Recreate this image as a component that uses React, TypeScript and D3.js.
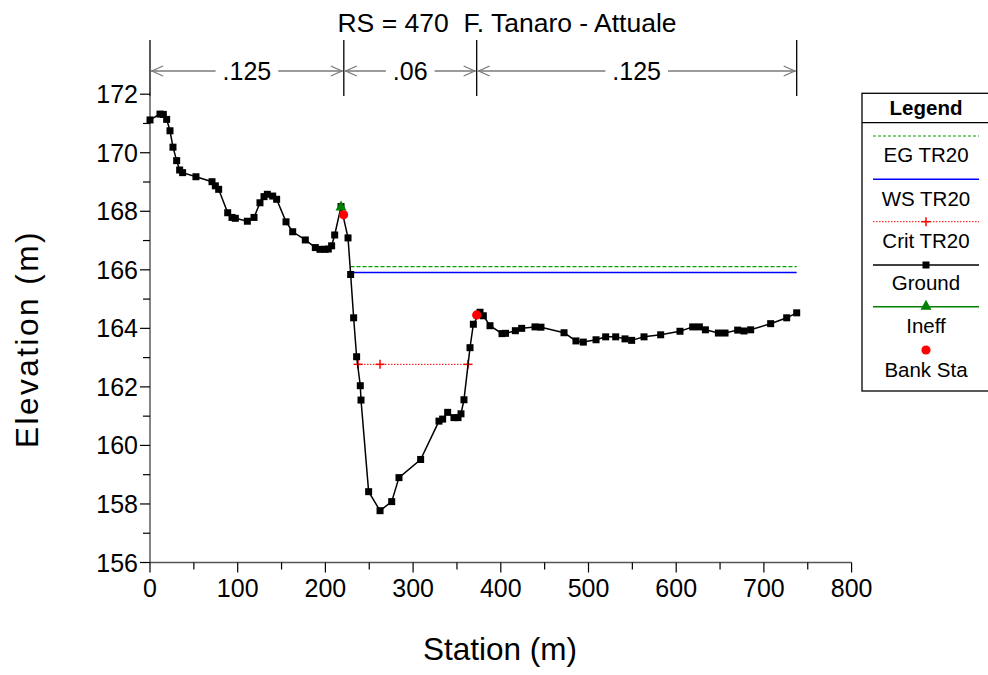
import React from "react";
import * as d3 from "d3";

const groundStation = [0, 11.4, 15.2, 19, 22.8, 26.2, 30.4, 33.8, 37.2, 52.4, 70.7, 74.5, 78.3, 88.6, 93.5, 97.3, 111, 118.6, 125.4, 130, 133.8, 139.9, 144.4, 155.1, 162.7, 177.1, 188.5, 193.8, 199.5, 203.3, 207.1, 210.6, 217.8, 225.8, 228.8, 232.2, 235.6, 239.8, 240.6, 249.3, 262.3, 275.6, 283.9, 308.6, 329.5, 333.7, 339.4, 346.6, 351.2, 354.6, 358, 364.9, 368.7, 376.3, 380.1, 387.7, 401.4, 405.4, 416.6, 423.8, 439, 445.8, 472.1, 485.7, 494.1, 508.6, 519.6, 531, 541.6, 549.2, 563.3, 582.3, 604.3, 618.8, 626.4, 633.3, 648.1, 655.7, 670.1, 677.3, 684.9, 707.7, 726, 737.4];
const groundElev = [171.12, 171.32, 171.31, 171.14, 170.75, 170.19, 169.73, 169.41, 169.32, 169.18, 169.01, 168.87, 168.75, 167.95, 167.79, 167.76, 167.66, 167.79, 168.29, 168.5, 168.58, 168.52, 168.41, 167.64, 167.3, 167.02, 166.76, 166.7, 166.7, 166.71, 166.82, 167.19, 168.16, 167.09, 165.84, 164.36, 163.03, 162.04, 161.55, 158.42, 157.77, 158.08, 158.9, 159.52, 160.83, 160.9, 161.13, 160.95, 160.95, 161.08, 161.56, 163.34, 164.14, 164.55, 164.43, 164.09, 163.82, 163.83, 163.92, 164.0, 164.05, 164.04, 163.85, 163.57, 163.53, 163.61, 163.71, 163.71, 163.64, 163.59, 163.71, 163.78, 163.9, 164.05, 164.05, 163.95, 163.84, 163.84, 163.94, 163.91, 163.95, 164.16, 164.36, 164.53];

const wsElev = 165.91;
const egElev = 166.11;
const wsStations = [228.6, 737.4];
const critElev = 162.77;
const critStations = [237.2, 262.3, 362.6];
const ineffStation = [217.8];
const ineffElev = [168.16];
const bankStation = [220.8, 372.5];
const bankElev = [167.88, 164.46];

const manningBreaks = [0, 221, 372.5, 737.4];
const manningValues = [".125", ".06", ".125"];

const xTicks = [0, 100, 200, 300, 400, 500, 600, 700, 800];
const xMinor = [50, 150, 250, 350, 450, 550, 650, 750];
const yTicks = [156, 158, 160, 162, 164, 166, 168, 170, 172];
const yMinor = [157, 159, 161, 163, 165, 167, 169, 171];

const legendLabels = ["EG TR20", "WS TR20", "Crit TR20", "Ground", "Ineff", "Bank Sta"];

const FONT = "'Liberation Sans', Arial, Helvetica, sans-serif";

export default function App() {
  const x = d3.scaleLinear().domain([0, 800]).range([150, 851.6]);
  const y = d3.scaleLinear().domain([156, 172]).range([562.5, 94.2]);
  const line = d3
    .line<number>()
    .x((_, i) => x(groundStation[i]))
    .y((d) => y(d));
  const groundPath = line(groundElev) || "";

  const tickFs = 25;
  const arrowY = 71;
  const manTop = 40;
  const manBot = 96;

  const tri = (cx: number, cy: number, s: number) =>
    `M${cx},${cy - s * 0.6}L${cx + s * 0.55},${cy + s * 0.4}L${cx - s * 0.55},${cy + s * 0.4}Z`;

  const plus = (cx: number, cy: number, s: number, key: string) => (
    <g key={key} stroke="#ff0000" strokeWidth={1.5}>
      <line x1={cx - s} x2={cx + s} y1={cy} y2={cy} />
      <line x1={cx} x2={cx} y1={cy - s} y2={cy + s} />
    </g>
  );

  const manning: React.ReactNode[] = [];
  manningBreaks.forEach((b, i) => {
    manning.push(
      <line key={"mv" + i} x1={x(b)} x2={x(b)} y1={manTop} y2={manBot} stroke="#000" strokeWidth={1.3} />
    );
  });
  manningValues.forEach((v, i) => {
    const x0 = x(manningBreaks[i]);
    const x1 = x(manningBreaks[i + 1]);
    const cx = (x0 + x1) / 2;
    const tw = (0.278 + (v.length - 1) * 0.556) * tickFs;
    const gap = tw / 2 + 7;
    const col = "#7a7a7a";
    manning.push(
      <g key={"ms" + i} stroke={col} strokeWidth={1.3} fill="none">
        <line x1={x0 + 1} x2={cx - gap} y1={arrowY} y2={arrowY} />
        <line x1={cx + gap} x2={x1 - 1} y1={arrowY} y2={arrowY} />
        <path d={`M${x0 + 13},${arrowY - 5}L${x0 + 2},${arrowY}L${x0 + 13},${arrowY + 5}`} />
        <path d={`M${x1 - 13},${arrowY - 5}L${x1 - 2},${arrowY}L${x1 - 13},${arrowY + 5}`} />
      </g>
    );
    manning.push(
      <text key={"mt" + i} x={cx} y={arrowY + 9} fontSize={tickFs} textAnchor="middle" fontFamily={FONT} fill="#000">
        {v}
      </text>
    );
  });

  const lgX0 = 862;
  const lgX1 = 995;
  const lgCx = 926;
  const lgLineX0 = 873;
  const lgLineX1 = 979;
  const lgLineY = [136, 179.3, 221.7, 265, 306.7, 350];
  const lgTextY = [162.3, 205.5, 248, 290, 333, 376.5];
  const lgFs = 20.5;

  return (
    <svg
      width={988}
      height={675}
      style={{ position: "absolute", left: 0, top: 0, background: "#fff" }}
      fontFamily={FONT}
    >
      <rect x={0} y={0} width={988} height={675} fill="#fff" />
      <text x={507} y={32} fontSize={26.5} textAnchor="middle">
        RS = 470{"\u00a0\u00a0"}F. Tanaro - Attuale
      </text>

      {manning}

      <line x1={x(0)} x2={x(0)} y1={y(156)} y2={y(172) - 2} stroke="#444" strokeWidth={1.3} />
      <line x1={x(0)} x2={x(800)} y1={y(156)} y2={y(156)} stroke="#555" strokeWidth={1.3} />
      {xTicks.map((t) => (
        <g key={"xt" + t}>
          <line x1={x(t)} x2={x(t)} y1={y(156)} y2={y(156) + 10} stroke="#000" strokeWidth={1.2} />
          <text x={x(t)} y={597} fontSize={tickFs} textAnchor="middle">
            {t}
          </text>
        </g>
      ))}
      {xMinor.map((t) => (
        <line key={"xm" + t} x1={x(t)} x2={x(t)} y1={y(156)} y2={y(156) + 7} stroke="#000" strokeWidth={1.2} />
      ))}
      {yTicks.map((t) => (
        <g key={"yt" + t}>
          <line x1={x(0) - 10} x2={x(0)} y1={y(t)} y2={y(t)} stroke="#000" strokeWidth={1.2} />
          <text x={138} y={y(t) + 9} fontSize={tickFs} textAnchor="end">
            {t}
          </text>
        </g>
      ))}
      {yMinor.map((t) => (
        <line key={"ym" + t} x1={x(0) - 7} x2={x(0)} y1={y(t)} y2={y(t)} stroke="#000" strokeWidth={1.2} />
      ))}

      <text x={500} y={660} fontSize={31.5} textAnchor="middle">
        Station (m)
      </text>
      <text transform={`translate(38,339) rotate(-90)`} fontSize={31.5} letterSpacing={2.5} textAnchor="middle">
        Elevation (m)
      </text>

      <line
        x1={x(wsStations[0])}
        x2={x(wsStations[1])}
        y1={y(egElev)}
        y2={y(egElev)}
        stroke="#00a000"
        strokeWidth={1.4}
        strokeDasharray="4,2"
      />
      <line
        x1={x(wsStations[0])}
        x2={x(wsStations[1])}
        y1={y(wsElev)}
        y2={y(wsElev)}
        stroke="#0000ff"
        strokeWidth={1.4}
      />
      <line
        x1={x(critStations[0])}
        x2={x(critStations[critStations.length - 1])}
        y1={y(critElev)}
        y2={y(critElev)}
        stroke="#ff0000"
        strokeWidth={1}
        strokeDasharray="1.5,1.5"
      />
      {critStations.map((s, i) => plus(x(s), y(critElev), 4.5, "cp" + i))}

      <path d={groundPath} fill="none" stroke="#000" strokeWidth={1.5} />
      {groundStation.map((s, i) => (
        <rect key={"g" + i} x={x(s) - 3.5} y={y(groundElev[i]) - 3.5} width={7} height={7} fill="#000" />
      ))}

      {ineffStation.map((s, i) => (
        <path key={"in" + i} d={tri(x(s), y(ineffElev[i]), 10)} fill="#008000" />
      ))}
      {bankStation.map((s, i) => (
        <circle key={"b" + i} cx={x(s)} cy={y(bankElev[i])} r={4.6} fill="#ff0000" />
      ))}

      <rect x={lgX0} y={93.3} width={lgX1 - lgX0} height={391 - 93.3} fill="#fff" stroke="#000" strokeWidth={1.3} />
      <line x1={lgX0} x2={lgX1} y1={122.7} y2={122.7} stroke="#000" strokeWidth={1.3} />
      <text x={lgCx} y={115} fontSize={lgFs} fontWeight="bold" textAnchor="middle">
        Legend
      </text>
      <line x1={lgLineX0} x2={lgLineX1} y1={lgLineY[0]} y2={lgLineY[0]} stroke="#00a000" strokeWidth={1.2} strokeDasharray="3,2" />
      <line x1={lgLineX0} x2={lgLineX1} y1={lgLineY[1]} y2={lgLineY[1]} stroke="#0000ff" strokeWidth={1.4} />
      <line x1={lgLineX0} x2={lgLineX1} y1={lgLineY[2]} y2={lgLineY[2]} stroke="#ff0000" strokeWidth={1} strokeDasharray="1.5,1.5" />
      {plus(lgCx, lgLineY[2], 4.5, "lgp")}
      <line x1={lgLineX0} x2={lgLineX1} y1={lgLineY[3]} y2={lgLineY[3]} stroke="#000" strokeWidth={1.4} />
      <rect x={lgCx - 3.5} y={lgLineY[3] - 3.5} width={7} height={7} fill="#000" />
      <line x1={lgLineX0} x2={lgLineX1} y1={lgLineY[4]} y2={lgLineY[4]} stroke="#008000" strokeWidth={1.4} />
      <path d={tri(lgCx, lgLineY[4] - 1, 10)} fill="#008000" />
      <circle cx={lgCx} cy={lgLineY[5]} r={4.6} fill="#ff0000" />
      {legendLabels.map((l, i) => (
        <text key={"lt" + i} x={lgCx} y={lgTextY[i]} fontSize={lgFs} textAnchor="middle">
          {l}
        </text>
      ))}
    </svg>
  );
}
